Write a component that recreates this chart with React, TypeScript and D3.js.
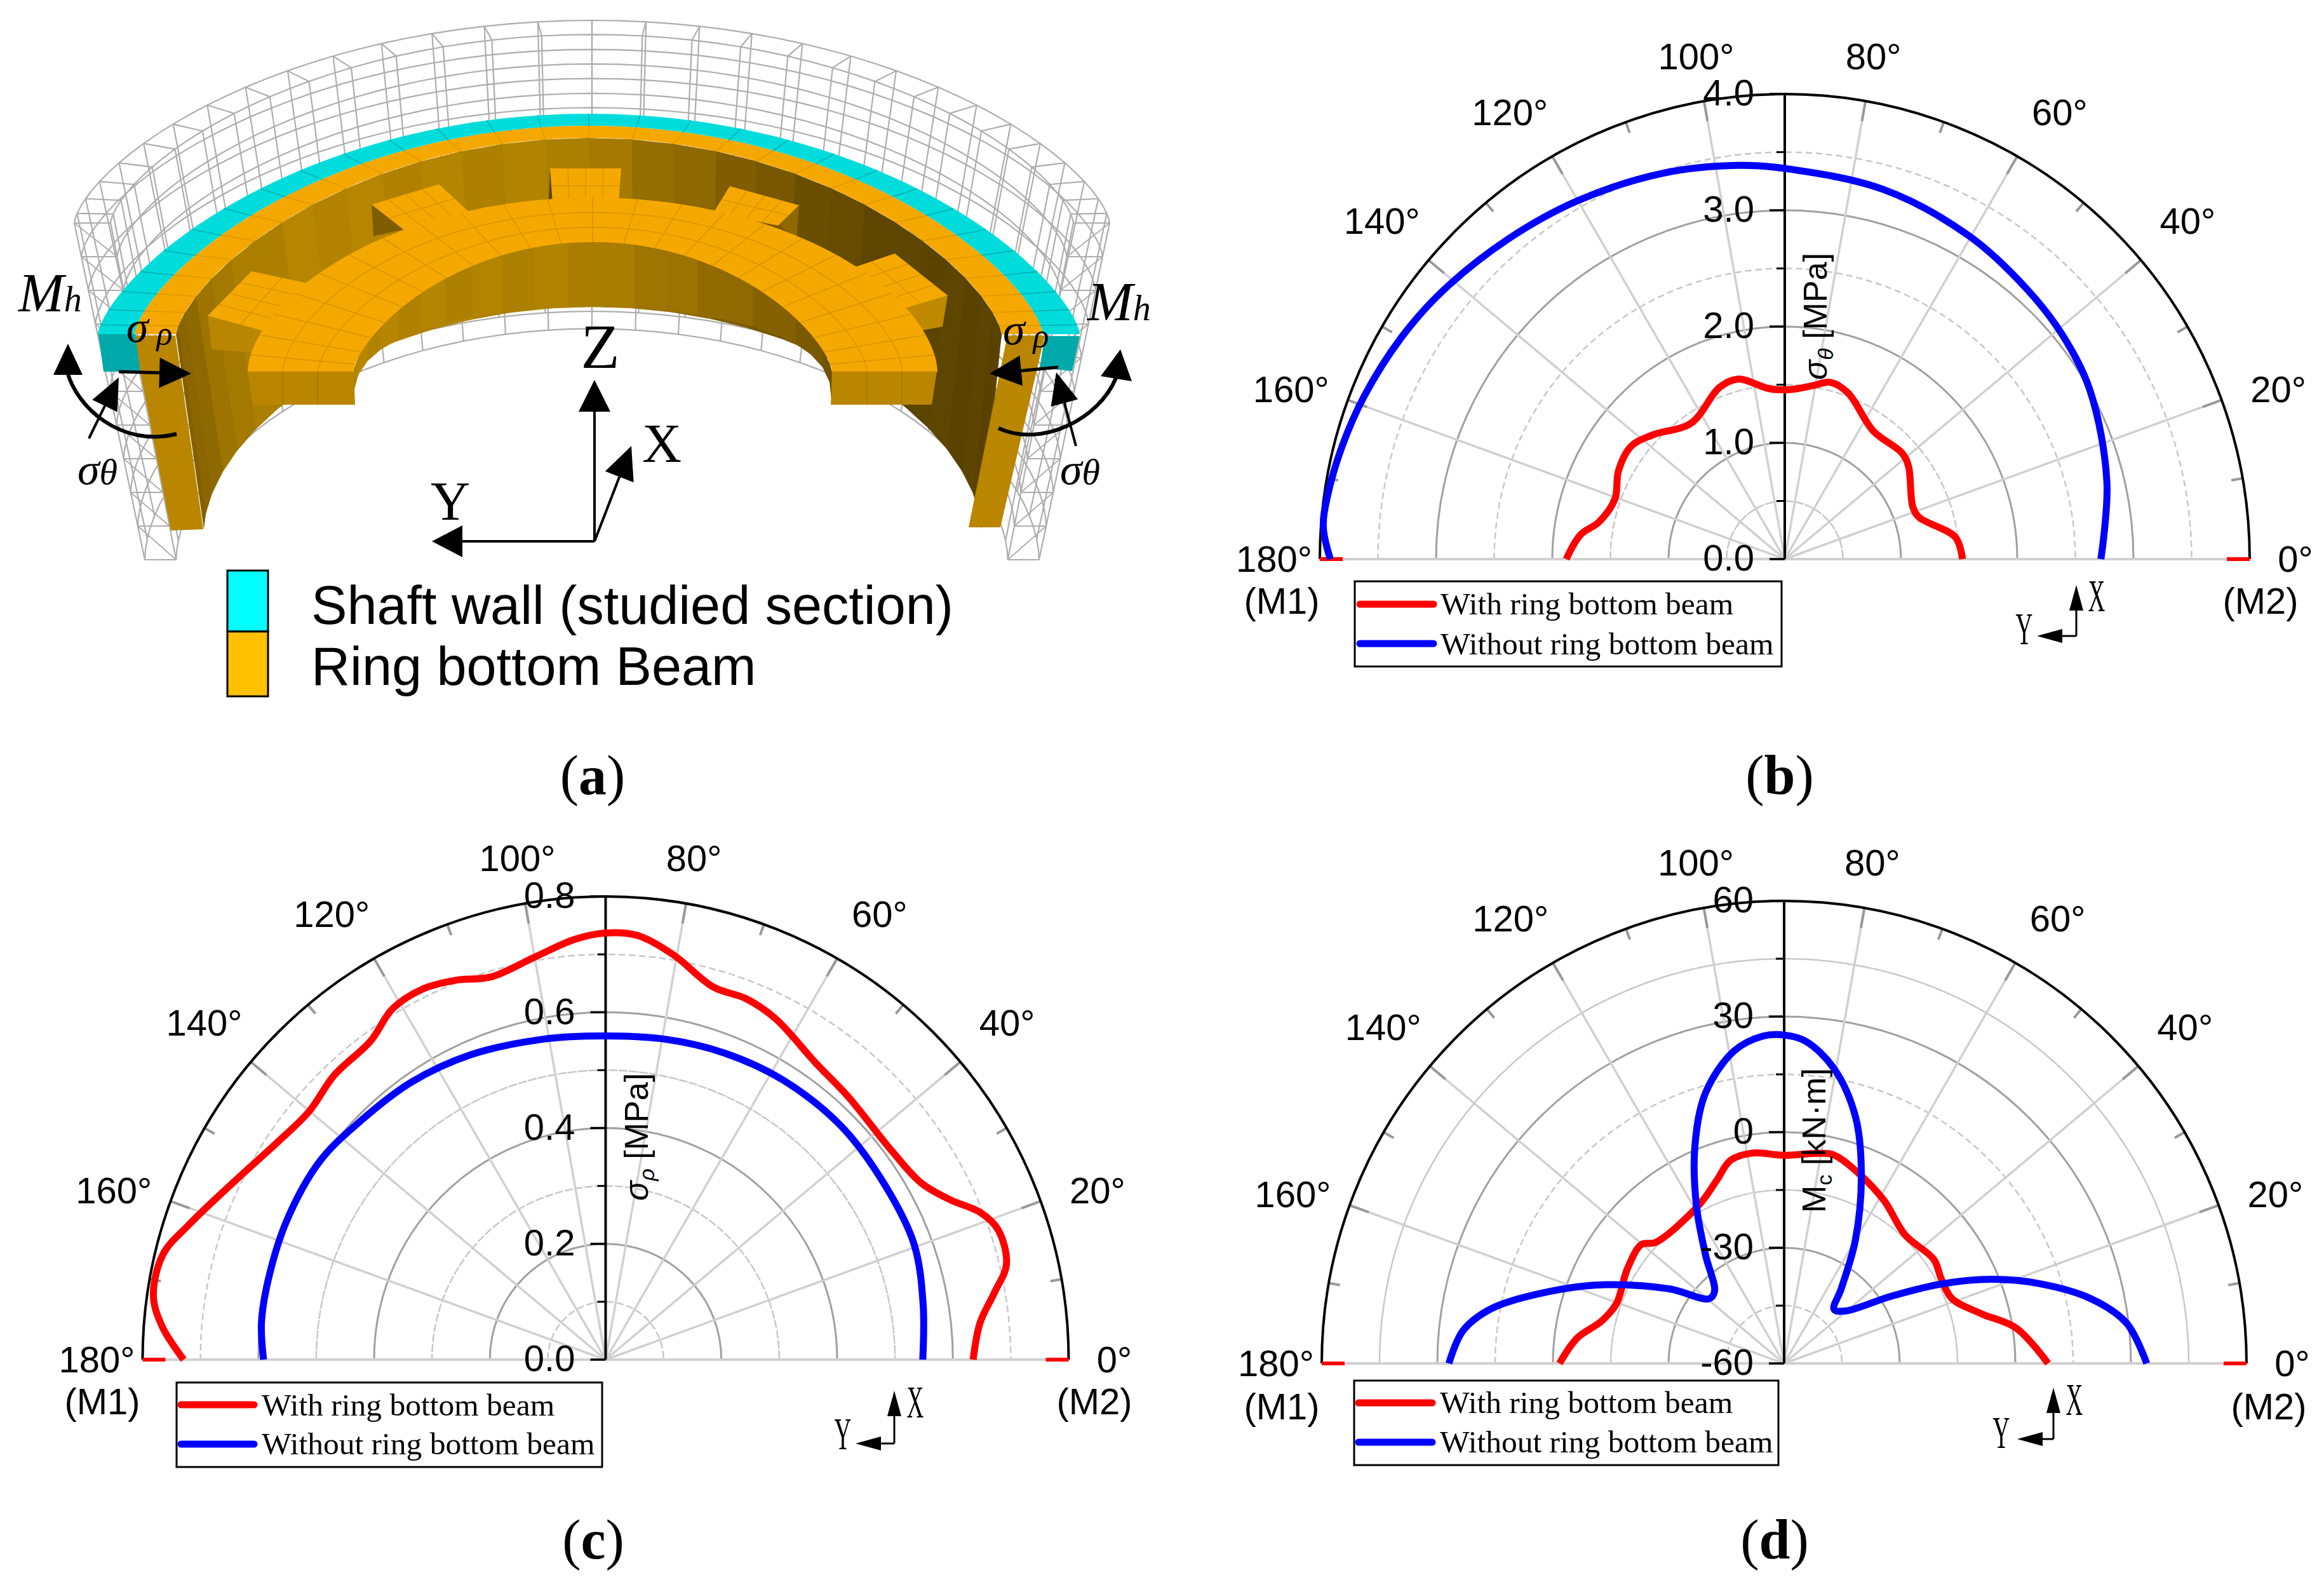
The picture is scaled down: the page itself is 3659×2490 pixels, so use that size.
import React from "react";
import * as d3 from "d3";

// ---------- DATA ----------
const bAngleBlue = [0,13.5,28.9,39,48.2,60.3,75,90,96.8,107.5,120,131,142,150,158.8,165.7,172,176,180];
const bValueBlue = [2.72,2.85,3.0,3.07,3.12,3.2,3.29,3.36,3.41,3.48,3.56,3.64,3.74,3.81,3.88,3.93,3.97,3.98,3.91];
const bAngleRed = [0,7.3,17.3,22.2,36.8,42,55.4,69.2,75.5,80.9,87.8,95,104.6,110.8,124.5,136.8,143.7,152,160.5,168.7,173.2,180];
const bValueRed = [1.53,1.48,1.21,1.19,1.33,1.36,1.34,1.53,1.57,1.51,1.46,1.47,1.6,1.58,1.42,1.56,1.64,1.62,1.55,1.63,1.77,1.88];

const cAngleBlue = [0,10,20.5,32,44.7,57.6,68.8,79.3,90,101.2,114,125,135.9,145.2,156.3,166.5,173.9,180];
const cValueBlue = [0.548,0.557,0.569,0.569,0.573,0.572,0.568,0.563,0.559,0.564,0.576,0.585,0.591,0.601,0.601,0.599,0.598,0.591];
const cAngleRed = [0,5.6,9.7,13.4,18.4,21.5,24.8,29.2,36,47.3,54.7,63.5,68.7,73.9,80.5,85.8,90,94.2,100,106.6,111.7,116.4,121.3,126.4,133.7,140.1,146.8,152.8,162.1,166.6,172,175.9,180];
const cValueRed = [0.635,0.65,0.681,0.712,0.714,0.695,0.657,0.625,0.612,0.618,0.628,0.658,0.669,0.67,0.709,0.735,0.737,0.728,0.706,0.69,0.705,0.714,0.709,0.684,0.679,0.668,0.681,0.704,0.757,0.786,0.789,0.767,0.729];

const dAngleBlue = [0,6.7,11.9,17.2,22.1,26.8,32.1,40.8,47.3,52.6,60,67.6,73.8,80.4,86.2,90,93.7,99.1,106.2,112.4,119.1,125.9,134,139.2,146.9,156.2,163,169.4,174.2,180];
const dValueBlue = [34.1,29.5,21.4,9.8,-2,-14.3,-27.2,-39.2,-40.9,-35.6,-23,-7.4,6.5,17.6,23.8,25.2,25.1,22.1,13.1,0.8,-13.2,-25.2,-34,-34.3,-24.6,-9.4,3.8,17.3,23.8,27];
const dAngleRed = [0,8.6,14.3,21.1,28.2,34.8,46.7,58.5,68.4,76.5,80.4,90,98.6,104.8,110.4,118.5,136.7,140.2,149,160.4,166.9,173,180];
const dValueRed = [8.5,1,-7.4,-13.3,-13.7,-12.7,-14.2,-10.4,-7.1,-4.4,-4.7,-6,-4.8,-5.5,-9.5,-13.4,-14.2,-11.8,-12.5,-13.8,-11.4,-5.9,-1.7];

const bTicks = ["0.0","1.0","2.0","3.0","4.0"];
const cTicks = ["0.0","0.2","0.4","0.6","0.8"];
const dTicks = ["-60","-30","0","30","60"];
const angleLabels = [0,20,40,60,80,100,120,140,160,180];
const seriesNames = ["With ring bottom beam","Without ring bottom beam"];
const legendA = ["Shaft wall (studied section)","Ring bottom Beam"];

const SANS = "'Liberation Sans', Arial, sans-serif";
const SERIF = "'Liberation Serif', 'Times New Roman', serif";
const zip = (a: number[], v: number[]) => a.map((x, i) => [x, v[i]] as [number, number]);

// ---------- helpers ----------
function Arrow({x1,y1,x2,y2,len,hw,w}:{x1:number,y1:number,x2:number,y2:number,len:number,hw:number,w:number}) {
  const dx=x2-x1, dy=y2-y1, l=Math.hypot(dx,dy), ux=dx/l, uy=dy/l;
  const bx=x2-ux*len, by=y2-uy*len;
  const pts=[[x2,y2],[bx-uy*hw,by+ux*hw],[bx+uy*hw,by-ux*hw]].map(p=>p.join(",")).join(" ");
  return <g><line x1={x1} y1={y1} x2={bx} y2={by} stroke="#000" strokeWidth={w}/><polygon points={pts} fill="#000"/></g>;
}

type PanelProps = {
  cx:number, cy:number, R:number, domain:[number,number], ticks:string[],
  red:[number,number][], blue:[number,number][],
  legend:{x:number,y:number,w:number,h:number,ly1:number,ly2:number,lx1:number,lx2:number,tx:number,b1:number,b2:number},
  m:{x1:number,x2:number,y:number}, xy:{x:number,y:number,xt:number,yt:number,xlx:number,xly:number,ylx:number,yly:number},
  axis:{x:number,y:number,main:string,sub:string,rest:string,italic:boolean},
  tag:{x:number,y:number,t:string}
};

// label placement around the rim: radial gap and the small angular shift seen in the figure
const labelGap=(a:number)=>({0:72,20:90,40:96,60:94,80:72,100:72,120:94,140:96,160:90,180:72} as Record<number,number>)[a];
const labelAng=(a:number)=>a===60?58.4:a===120?121.6:a===160?161:a===20?19:a;

function Panel(p:PanelProps){
  const {cx,cy,R}=p;
  const r=d3.scaleLinear().domain(p.domain).range([0,R]);
  const ang=d3.scaleLinear().domain([0,180]).range([Math.PI/2,-Math.PI/2]);
  const span=p.domain[1]-p.domain[0];
  const line=d3.lineRadial<[number,number]>().angle(d=>ang(d[0])).radius(d=>r(d[1])).curve(d3.curveCatmullRom.alpha(0.5));
  const arc=(v:number)=>{
    const rad=r(v);
    return d3.arc()({innerRadius:rad,outerRadius:rad,startAngle:-Math.PI/2,endAngle:Math.PI/2}) as string;
  };
  const px=(deg:number,rad:number)=>[cx+rad*Math.cos(deg*Math.PI/180),cy-rad*Math.sin(deg*Math.PI/180)];
  const majors=d3.range(0,5).map(i=>p.domain[0]+span*i/4);
  const minors=d3.range(0,4).map(i=>p.domain[0]+span*(i+0.5)/4);
  return <g>
    {minors.map((v,i)=><path key={i} transform={`translate(${cx},${cy})`} d={arc(v)} fill="none" stroke="#c8c8c8" strokeWidth={2.5} strokeDasharray="9 7"/>)}
    {majors.slice(1,4).map((v,i)=><path key={i} transform={`translate(${cx},${cy})`} d={arc(v)} fill="none" stroke="#a0a0a0" strokeWidth={3}/>)}
    {d3.range(20,180,20).map(a=>{const e=px(a,R);return <line key={a} x1={cx} y1={cy} x2={e[0]} y2={e[1]} stroke="#d0d0d0" strokeWidth={3.5}/>;})}
    <line x1={cx-R} y1={cy} x2={cx+R} y2={cy} stroke="#d0d0d0" strokeWidth={4}/>
    {d3.range(10,180,10).filter(a=>a!==90).map(a=>{const maj=a%20===0;const s=px(a,R);const e=px(a,R-(maj?32:18));return <line key={a} x1={s[0]} y1={s[1]} x2={e[0]} y2={e[1]} stroke="#999" strokeWidth={4}/>;})}
    <path transform={`translate(${cx},${cy})`} d={arc(p.domain[1])} fill="none" stroke="#000" strokeWidth={4}/>
    <line x1={cx+R-36} y1={cy} x2={cx+R} y2={cy} stroke="#ff0000" strokeWidth={6}/>
    <line x1={cx-R} y1={cy} x2={cx-R+36} y2={cy} stroke="#ff0000" strokeWidth={6}/>
    <line x1={cx} y1={cy} x2={cx} y2={cy-R} stroke="#000" strokeWidth={4}/>
    {majors.map((v,i)=><line key={i} x1={cx-24} x2={cx} y1={cy-r(v)} y2={cy-r(v)} stroke="#000" strokeWidth={3.5}/>)}
    {minors.map((v,i)=><line key={i} x1={cx-13} x2={cx} y1={cy-r(v)} y2={cy-r(v)} stroke="#000" strokeWidth={3}/>)}
    <path transform={`translate(${cx},${cy})`} d={line(p.red) as string} fill="none" stroke="#ff0000" strokeWidth={11}/>
    <path transform={`translate(${cx},${cy})`} d={line(p.blue) as string} fill="none" stroke="#0000ff" strokeWidth={11}/>
    {majors.map((v,i)=><text key={i} x={cx-48} y={cy-r(v)+3} textAnchor="end" dominantBaseline="middle" fontFamily={SANS} fontSize={58}>{p.ticks[i]}</text>)}
    {angleLabels.map(a=>{const e=px(labelAng(a),R+labelGap(a));return <text key={a} x={e[0]} y={e[1]+5} textAnchor="middle" dominantBaseline="middle" fontFamily={SANS} fontSize={58}>{a}°</text>;})}
    <text x={p.m.x1} y={p.m.y} textAnchor="middle" fontFamily={SANS} fontSize={58}>(M1)</text>
    <text x={p.m.x2} y={p.m.y} textAnchor="middle" fontFamily={SANS} fontSize={58}>(M2)</text>
    <rect x={p.legend.x} y={p.legend.y} width={p.legend.w} height={p.legend.h} fill="#fff" stroke="#000" strokeWidth={3}/>
    <line x1={p.legend.lx1} x2={p.legend.lx2} y1={p.legend.ly1} y2={p.legend.ly1} stroke="#ff0000" strokeWidth={11} strokeLinecap="round"/>
    <line x1={p.legend.lx1} x2={p.legend.lx2} y1={p.legend.ly2} y2={p.legend.ly2} stroke="#0000ff" strokeWidth={11} strokeLinecap="round"/>
    <text x={p.legend.tx} y={p.legend.b1} fontFamily={SERIF} fontSize={49.5}>{seriesNames[0]}</text>
    <text x={p.legend.tx} y={p.legend.b2} fontFamily={SERIF} fontSize={49.5}>{seriesNames[1]}</text>
    <Arrow x1={p.xy.x} y1={p.xy.y} x2={p.xy.x} y2={p.xy.xt} len={40} hw={11} w={3}/>
    <Arrow x1={p.xy.x} y1={p.xy.y} x2={p.xy.yt} y2={p.xy.y} len={40} hw={11} w={3}/>
    <text transform={`translate(${p.xy.xlx},${p.xy.xly+25}) scale(0.62,1.2)`} textAnchor="middle" fontFamily={SERIF} fontSize={60}>X</text>
    <text transform={`translate(${p.xy.ylx},${p.xy.yly+25}) scale(0.62,1.2)`} textAnchor="middle" fontFamily={SERIF} fontSize={60}>Y</text>
    <text transform={`translate(${p.axis.x},${p.axis.y}) rotate(-90)`} fontFamily={SANS} fontSize={52}>
      <tspan fontStyle={p.axis.italic?"italic":"normal"}>{p.axis.main}</tspan>
      <tspan fontStyle={p.axis.italic?"italic":"normal"} fontSize={34} dy={10}>{p.axis.sub}</tspan>
      <tspan dy={-10}>{p.axis.rest}</tspan>
    </text>
    <text x={p.tag.x} y={p.tag.y} textAnchor="middle" fontFamily={SERIF} fontSize={88}>(<tspan fontWeight="bold">{p.tag.t}</tspan>)</text>
  </g>;
}

// ---------- panel (a): the 3D model ----------
const rad=(t:number)=>t*Math.PI/180;
// point on a perspective-flattened half ring: the exponent flattens the shoulders
const ep=(cx:number,cy:number,a:number,b:number,t:number,p=1):[number,number]=>
  [cx+a*Math.cos(rad(t)),cy-b*Math.pow(Math.max(0,Math.sin(rad(t))),p)];
const smooth=d3.line();
const arcPts=(cx:number,cy:number,a:number,b:number,p=1,n=90)=>d3.range(n+1).map(i=>ep(cx,cy,a,b,180*i/n,p));
const P=(a:number[][])=>(smooth(a as [number,number][]) as string)+"Z";
const mid=(a:number[],b:number[],k=0.5)=>[a[0]+(b[0]-a[0])*k,a[1]+(b[1]-a[1])*k];

function Annulus({c1,c2,fill}:{c1:number[],c2:number[],fill:string}){
  const o=arcPts(c1[0],c1[1],c1[2],c1[3],c1[4]);
  const i=arcPts(c2[0],c2[1],c2[2],c2[3],c2[4]).reverse();
  return <path d={P([...o,...i])} fill={fill}/>;
}

const C1=[927,526,773,347,1.4], C2=[927,526,715,328,1.4], C3=[927,526,650,309,1.4];
const B0=[933,585,377,204,1.4], B1=[933,585,543,274,1.15];

function Tooth({top,face,faceColor}:{top:number[][],face?:number[][],faceColor?:string}){
  const [a,b,c,d]=top;
  const lines=[[mid(a,b),mid(d,c)],[mid(a,d),mid(b,c)],[mid(a,b,.25),mid(d,c,.25)],[mid(a,b,.75),mid(d,c,.75)]];
  return <g>
    {face&&<path d={P(face)} fill={faceColor}/>}
    <path d={P(top)} fill="#f5a800"/>
    {lines.map((l,i)=><path key={i} d={smooth(l as [number,number][]) as string} stroke="#d99600" strokeWidth={1.6} fill="none"/>)}
  </g>;
}

function ModelA(){
  const levels=d3.range(0,11).map(i=>i/10);
  const wAng=d3.range(0,181,6);
  const shell=(t:number,k:number)=>({cx:932,cy:351+530*t,a:(815-111*t)*k,b:(319+72*t)*k,p:1.35-0.25*t});
  const wp=(t:number,k:number,a:number)=>{const s=shell(t,k);return ep(s.cx,s.cy,s.a,s.b,a,s.p);};
  const wire:React.ReactNode[]=[];
  const W="#adadad";
  [1,0.93].forEach((k,ki)=>{
    levels.forEach((t,i)=>{
      wire.push(<path key={`l${ki}${i}`} d={smooth(d3.range(0,181,3).map(a=>wp(t,k,a))) as string} fill="none" stroke={W} strokeWidth={2.2}/>);});
    wAng.forEach(a=>{
      wire.push(<path key={`v${ki}${a}`} d={smooth(levels.map(t=>wp(t,k,a))) as string} fill="none" stroke={W} strokeWidth={2.2}/>);
    });
  });
  wAng.forEach(a=>{const p=wp(0,1,a),q=wp(0,.93,a);
    wire.push(<line key={`t${a}`} x1={p[0]} y1={p[1]} x2={q[0]} y2={q[1]} stroke={W} strokeWidth={2.2}/>);});
  levels.forEach((t,i)=>{[0,180].forEach(a=>{const p=wp(t,1,a),q=wp(t,.93,a);
    wire.push(<line key={`e${i}${a}`} x1={p[0]} y1={p[1]} x2={q[0]} y2={q[1]} stroke={W} strokeWidth={2.2}/>);
    if(i<10){const n=wp(levels[i+1],.93,a);wire.push(<line key={`d${i}${a}`} x1={p[0]} y1={p[1]} x2={n[0]} y2={n[1]} stroke={W} strokeWidth={1.8}/>);}
  });});

  // inner wall
  const wallColor=d3.scaleLinear<string>().domain([0,40,55,70,90,130,150,165,180]).range(["#5c4300","#5f4600","#6e5200","#8a6500","#b08300","#b98700","#a87c00","#8d6700","#856000"]);
  const wallStep=6;
  const tp=(a:number)=>ep(C3[0],C3[1],C3[2],C3[3],a,C3[4]);
  const bt=(a:number)=>ep(933,833,612,350,a,1.15);
  const wall=d3.range(0,180,wallStep).map((t,i)=>{
    const col=d3.color(wallColor(t))!; const c2=i%2?col.darker(.08):col;
    return <path key={t} d={P([tp(t),tp(t+wallStep+.5),bt(t+wallStep+.5),bt(t)])} fill={c2.toString()}/>;
  });
  // beam inner face
  const faceColor=d3.scaleLinear<string>().domain([0,40,90,140,180]).range(["#6e5000","#8a6400","#b08300","#b58500","#b88800"]);
  const fu=(t:number)=>ep(B0[0],B0[1],B0[2],B0[3],t,B0[4]);
  const fl=(t:number)=>ep(933,637,377,154,t,0.75);
  const face=d3.range(0,180,8).map((t,i)=>{
    const col=d3.color(faceColor(t))!;
    return <path key={t} d={P([fu(t),fu(t+8.5),fl(t+8.5),fl(t)])} fill={(i%2?col.darker(.08):col).toString()}/>;
  });
  // meshes on the flat tops
  const beamAt=(t:number,rho:number)=>ep(933,585,377+166*rho,204+70*rho,t,1.4-.25*rho);
  const mesh:React.ReactNode[]=[];
  [1/3,2/3].forEach((rho,i)=>mesh.push(<path key={`c${i}`} d={smooth(d3.range(0,181,3).map(t=>beamAt(t,rho))) as string} fill="none" stroke="#d99600" strokeWidth={1.6}/>));
  d3.range(0,181,7.5).forEach(t=>{const a=beamAt(t,0),b=beamAt(t,1);mesh.push(<line key={`r${t}`} x1={a[0]} y1={a[1]} x2={b[0]} y2={b[1]} stroke="#d99600" strokeWidth={1.6}/>);});
  const top:React.ReactNode[]=[];
  d3.range(6,180,6).forEach(t=>{
    const a=ep(C1[0],C1[1],C1[2],C1[3],t,C1[4]),b=ep(C2[0],C2[1],C2[2],C2[3],t,C2[4]),c=ep(C3[0],C3[1],C3[2],C3[3],t,C3[4]);
    top.push(<line key={`a${t}`} x1={a[0]} y1={a[1]} x2={b[0]} y2={b[1]} stroke="#00b4b4" strokeWidth={1.8}/>);
    top.push(<line key={`b${t}`} x1={b[0]} y1={b[1]} x2={c[0]} y2={c[1]} stroke="#dc9a00" strokeWidth={1.6}/>);
  });
  return <g>
    {wire}
    {wall}
    <Annulus c1={C1} c2={C2} fill="#00dcdc"/>
    <Annulus c1={C2} c2={C3} fill="#f5a800"/>
    {top}
    {/* front strips and cut faces */}
    <path d={P([[221,586],[213,528],[276,528],[320,833],[269,835]])} fill="#ba8600"/>
    <path d={P([[1645,528],[1586,528],[1525,830],[1575,830]])} fill="#ba8600"/>
    <path d={P([[155,526],[213,526],[221,585],[163,585]])} fill="#00a9a9"/>
    <path d={P([[1645,529],[1700,529],[1688,584],[1637,579]])} fill="#00a9a9"/>
    {/* teeth */}
    <path d={P([[585,322],[588,372],[640,360]])} fill="#7f5c00"/>
    <path d={P([[1258,323],[1254,379],[1225,351]])} fill="#8f6800"/>
    <path d={P([[866,265],[875,315],[864,315]])} fill="#5c4300"/>
    <Tooth top={[[327,497],[396,427],[490,447],[430,525]]} face={[[327,497],[333,550],[399,555],[430,525]]} faceColor="#b88600"/>
    <Tooth top={[[585,322],[691,290],[740,335],[640,365]]}/>
    <Tooth top={[[866,265],[978,265],[974,320],[870,320]]}/>
    <Tooth top={[[1149,293],[1258,323],[1225,355],[1123,335]]}/>
    <Tooth top={[[1409,399],[1492,465],[1408,490],[1335,424]]} face={[[1492,465],[1484,514],[1441,522],[1408,483]]} faceColor="#bf8a00"/>
    {face}
    <Annulus c1={B1} c2={B0} fill="#f5a800"/>
    {mesh}
    <path d={P([[390,585],[557,585],[559,637],[398,637]])} fill="#ba8600"/>
    <path d={P([[1310,585],[1475,585],[1467,637],[1308,637]])} fill="#ba8600"/>
    {[445,500,1365,1420].map(x=><line key={x} x1={x} x2={x} y1={585} y2={637} stroke="#a67a00" strokeWidth={1.6}/>)}
    {/* coordinate axes */}
    <Arrow x1={936} y1={852} x2={936} y2={598} len={50} hw={25} w={4}/>
    <Arrow x1={936} y1={852} x2={680} y2={852} len={48} hw={25} w={4}/>
    <Arrow x1={936} y1={852} x2={994} y2={702} len={52} hw={24} w={4}/>
    <text x={945} y={579} textAnchor="middle" fontFamily={SERIF} fontSize={100}>Z</text>
    <text x={1042} y={727} textAnchor="middle" fontFamily={SERIF} fontSize={86}>X</text>
    <text x={709} y={818} textAnchor="middle" fontFamily={SERIF} fontSize={86}>Y</text>
    {/* load arrows */}
    <Arrow x1={187} y1={585} x2={301} y2={588} len={50} hw={24} w={5}/>
    <Arrow x1={1666} y1={578} x2={1558} y2={588} len={50} hw={24} w={5}/>
    <Arrow x1={140} y1={690} x2={187} y2={594} len={50} hw={22} w={4}/>
    <Arrow x1={1694} y1={702} x2={1663} y2={586} len={50} hw={22} w={4}/>
    <path d="M278,683 C190,705 120,640 106,585" fill="none" stroke="#000" strokeWidth={6}/>
    <polygon points="107,541 84,590 130,590" fill="#000"/>
    <path d="M1572,674 C1640,705 1730,660 1757,595" fill="none" stroke="#000" strokeWidth={6}/>
    <polygon points="1764,550 1733,592 1782,600" fill="#000"/>
    <text x={29} y={490} fontFamily={SERIF} fontStyle="italic" fontSize={86}>M<tspan fontSize={56}>h</tspan></text>
    <text x={1712} y={504} fontFamily={SERIF} fontStyle="italic" fontSize={86}>M<tspan fontSize={56}>h</tspan></text>
    <text x={199} y={538} fontFamily={SERIF} fontStyle="italic" fontSize={70}>σ<tspan fontSize={52} dy={4}> ρ</tspan></text>
    <text x={1579} y={542} fontFamily={SERIF} fontStyle="italic" fontSize={70}>σ<tspan fontSize={52} dy={4}> ρ</tspan></text>
    <text x={122} y={762} fontFamily={SERIF} fontStyle="italic" fontSize={70}>σ<tspan fontSize={58}>θ</tspan></text>
    <text x={1669} y={762} fontFamily={SERIF} fontStyle="italic" fontSize={70}>σ<tspan fontSize={58}>θ</tspan></text>
    {/* model legend */}
    <rect x={358} y={898} width={64} height={96} fill="#00ffff" stroke="#000" strokeWidth={3}/>
    <rect x={358} y={994} width={64} height={102} fill="#ffc000" stroke="#000" strokeWidth={3}/>
    <text x={490} y={982} fontFamily={SANS} fontSize={84.6}>{legendA[0]}</text>
    <text x={490} y={1078} fontFamily={SANS} fontSize={84.6}>{legendA[1]}</text>
    <text x={933} y={1250} textAnchor="middle" fontFamily={SERIF} fontSize={88}>(<tspan fontWeight="bold">a</tspan>)</text>
  </g>;
}

export default function App(){
  return <svg width={3659} height={2490} viewBox="0 0 3659 2490" style={{position:"absolute",left:0,top:0,background:"#fff"}}>
    <rect width={3659} height={2490} fill="#fff"/>
    <ModelA/>
    <Panel cx={2810} cy={880} R={732} domain={[0,4]} ticks={bTicks} red={zip(bAngleRed,bValueRed)} blue={zip(bAngleBlue,bValueBlue)}
      legend={{x:2133,y:915,w:672,h:134,ly1:951,ly2:1013,lx1:2141,lx2:2257,tx:2268,b1:967,b2:1030}}
      m={{x1:2018,x2:3559,y:966}} xy={{x:3269,y:1001,xt:921,yt:3207,xlx:3301,xly:937,ylx:3187,yly:989}}
      axis={{x:2876,y:598,main:"σ",sub:"θ",rest:" [MPa]",italic:true}} tag={{x:2802,y:1250,t:"b"}}/>
    <Panel cx={953.5} cy={2140} R={729} domain={[0,0.8]} ticks={cTicks} red={zip(cAngleRed,cValueRed)} blue={zip(cAngleBlue,cValueBlue)}
      legend={{x:278,y:2176,w:670,h:133,ly1:2211,ly2:2273,lx1:285,lx2:400,tx:412,b1:2228,b2:2289}}
      m={{x1:161,x2:1723,y:2226}} xy={{x:1408,y:2272,xt:2189,yt:1347,xlx:1441,xly:2206,ylx:1327,yly:2256}}
      axis={{x:1020,y:1890,main:"σ",sub:"ρ",rest:" [MPa]",italic:true}} tag={{x:934,y:2453,t:"c"}}/>
    <Panel cx={2809} cy={2146} R={728} domain={[-60,60]} ticks={dTicks} red={zip(dAngleRed,dValueRed)} blue={zip(dAngleBlue,dValueBlue)}
      legend={{x:2132,y:2173,w:668,h:133,ly1:2208,ly2:2270,lx1:2139,lx2:2255,tx:2267,b1:2224,b2:2286}}
      m={{x1:2018,x2:3572,y:2234}} xy={{x:3233,y:2265,xt:2184,yt:3176,xlx:3266,xly:2202,ylx:3151,yly:2254}}
      axis={{x:2874,y:1909,main:"M",sub:"c",rest:" [kN·m]",italic:false}} tag={{x:2794,y:2453,t:"d"}}/>
  </svg>;
}
